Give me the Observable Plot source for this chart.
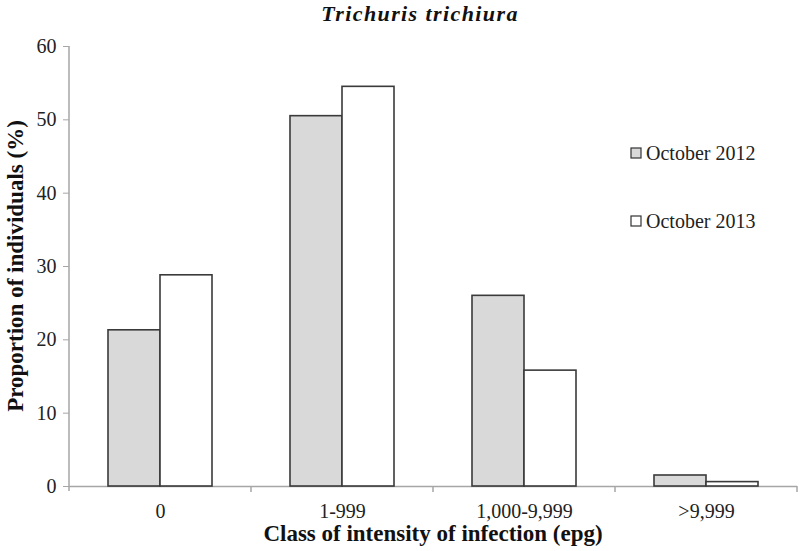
<!DOCTYPE html>
<html>
<head>
<meta charset="utf-8">
<script src="https://cdn.jsdelivr.net/npm/d3@7"></script>
<script src="https://cdn.jsdelivr.net/npm/@observablehq/plot@0.6"></script>
<style>
  html, body { margin: 0; padding: 0; background: #fff; }
  #wrap { position: relative; width: 800px; height: 551px; }
  #wrap svg { position: absolute; left: 0; top: 0; }
  #wrap svg text { font-family: "Liberation Serif", "Times New Roman", serif !important; }
</style>
</head>
<body>
<div id="wrap"></div>
<script>
const categories = ["0", "1-999", "1,000-9,999", ">9,999"];
const series = ["October 2012", "October 2013"];
const values2012 = [21.3, 50.5, 26.0, 1.5];
const values2013 = [28.8, 54.5, 15.8, 0.6];
const yTicks = [0, 10, 20, 30, 40, 50, 60];
const titleText = "Trichuris trichiura";
const xTitle = "Class of intensity of infection (epg)";
const yTitle = "Proportion of individuals (%)";

const data = [];
categories.forEach((c, i) => {
  data.push({cat: c, series: series[0], value: values2012[i]});
  data.push({cat: c, series: series[1], value: values2013[i]});
});

const fillColors = ["#d9d9d9", "#ffffff"];
const axisGray = "#a6a6a6";
const font = "Liberation Serif, Times New Roman, serif";

const plot = Plot.plot({
  width: 800,
  height: 551,
  marginLeft: 69,
  marginRight: 3,
  marginTop: 46,
  marginBottom: 65,
  style: {fontFamily: font, fontSize: "20px", color: "#222", background: "#fff"},
  fx: {domain: categories, padding: 0, axis: "bottom", tickSize: 0, tickPadding: 17, label: null},
  x: {domain: series, paddingInner: 0, paddingOuter: 0.73, axis: null},
  y: {domain: [0, 60], ticks: yTicks, tickSize: 6, tickPadding: 7, label: null},
  color: {domain: series, range: fillColors},
  marks: [
    Plot.ruleY([0], {stroke: axisGray, strokeWidth: 1.5}),
    Plot.barY(data, {fx: "cat", x: "series", y: "value", fill: "series", stroke: "#3a3a3a", strokeWidth: 1.6})
  ]
});

document.getElementById("wrap").appendChild(plot);

const svg = d3.select(plot);
const fx = plot.scale("fx");
const y = plot.scale("y");
const y0 = y.apply(0), y60 = y.apply(60);
const left = fx.apply(categories[0]);
const right = fx.apply(categories[categories.length - 1]) + fx.bandwidth;

// tick label fonts
svg.selectAll("text").style("font-size", "20px").style("fill", "#222");
// grey axis tick colour
svg.selectAll('[aria-label="y-axis tick"] path, [aria-label="y-axis tick"] line').attr("stroke", axisGray);
svg.selectAll('g[aria-label="y-axis"] .tick line').attr("stroke", axisGray);

const g = svg.append("g").attr("text-anchor", "start");
// y axis line
g.append("line").attr("x1", left).attr("x2", left).attr("y1", y60).attr("y2", y0 + 5)
  .attr("stroke", axisGray).attr("stroke-width", 1.5);
// category boundary ticks
categories.forEach(c => {
  const xb = fx.apply(c) + fx.bandwidth;
  g.append("line").attr("x1", xb).attr("x2", xb).attr("y1", y0).attr("y2", y0 + 6)
    .attr("stroke", axisGray).attr("stroke-width", 1.5);
});

// title
g.append("text").attr("x", 420).attr("y", 21).attr("text-anchor", "middle")
  .style("font-size", "22px").style("font-weight", "bold").style("font-style", "italic")
  .style("letter-spacing", "1.4px")
  .style("fill", "#111").text(titleText);
// x title
g.append("text").attr("x", (left + right) / 2).attr("y", 541).attr("text-anchor", "middle")
  .style("font-size", "23px").style("font-weight", "bold")
  .style("fill", "#111").text(xTitle);
// y title
g.append("text").attr("transform", `translate(23,${(y0 + y60) / 2}) rotate(-90)`).attr("text-anchor", "middle")
  .style("font-size", "23px").style("font-weight", "bold")
  .style("fill", "#111").text(yTitle);

// legend
const legendY = [153, 221];
series.forEach((s, i) => {
  g.append("rect").attr("x", 631).attr("y", legendY[i] - 5).attr("width", 10).attr("height", 10)
    .attr("fill", fillColors[i]).attr("stroke", "#333").attr("stroke-width", 1.2);
  g.append("text").attr("x", 646).attr("y", legendY[i] + 7).attr("text-anchor", "start")
    .style("font-size", "20px").style("fill", "#222").text(s);
});
</script>
</body>
</html>
